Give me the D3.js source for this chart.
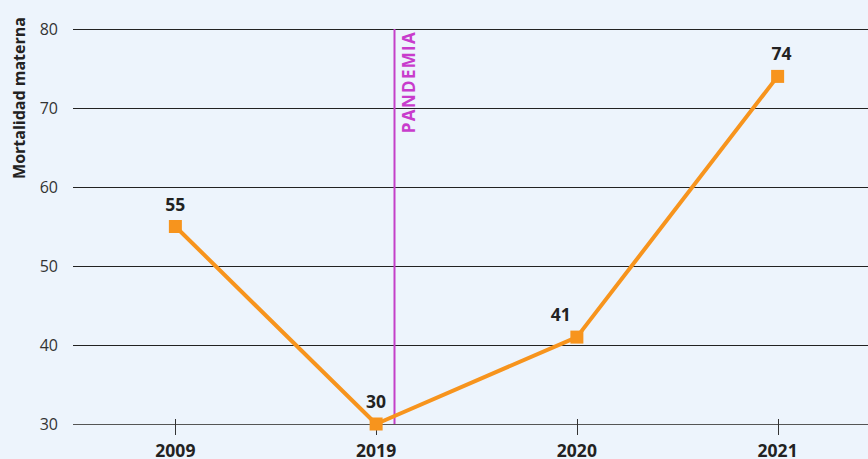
<!DOCTYPE html>
<html><head><meta charset="utf-8">
<script src="https://cdn.jsdelivr.net/npm/d3@7"></script>
<style>
html,body{margin:0;padding:0;background:#edf4fc;}
svg{display:block;font-family:"Open Sans","Noto Sans",sans-serif;}
</style></head>
<body><svg id="c" width="868" height="459"></svg>
<script>
const categories = ["2009","2019","2020","2021"];
const values = [55,30,41,74];
const yTicks = [30,40,50,60,70,80];
const labelDx = [0,0,-16,4];
const pandemicLabel = "PANDEMIA";
const yTitle = "Mortalidad materna";

const svg = d3.select("#c");
svg.append("rect").attr("width",868).attr("height",459).attr("fill","#edf4fc");
const x = d3.scalePoint().domain(categories).range([75,878]).padding(0.5);
const y = d3.scaleLinear().domain([30,80]).range([424,29]);

svg.append("g").selectAll("line").data(yTicks).join("line")
  .attr("x1",73).attr("x2",868).attr("y1",d=>y(d)+0.5).attr("y2",d=>y(d)+0.5)
  .attr("stroke",d=>d===30?"#555":"#222").attr("stroke-width",1);
svg.append("g").selectAll("text").data(yTicks).join("text")
  .attr("x",58).attr("y",d=>y(d)).attr("dy","0.35em").attr("text-anchor","end")
  .attr("font-size",16).attr("fill","#333").text(d=>d);

svg.append("g").selectAll("line").data(categories).join("line")
  .attr("x1",d=>Math.round(x(d))+0.5).attr("x2",d=>Math.round(x(d))+0.5)
  .attr("y1",419).attr("y2",435).attr("stroke","#333");
svg.append("g").selectAll("text").data(categories).join("text")
  .attr("x",d=>x(d)).attr("y",457).attr("text-anchor","middle")
  .attr("font-size",17.5).attr("font-weight","bold").attr("fill","#222").text(d=>d);

svg.append("text").attr("transform","translate(25,98) rotate(-90)")
  .attr("text-anchor","middle").attr("font-size",16).attr("font-weight","bold")
  .attr("fill","#222").text(yTitle);

svg.append("line").attr("x1",394.5).attr("x2",394.5).attr("y1",y(80)).attr("y2",y(30))
  .attr("stroke","#c440c8").attr("stroke-width",2);
svg.append("text").attr("transform","translate(415,31) rotate(-90)")
  .attr("text-anchor","end").attr("font-size",17).attr("font-weight","bold")
  .attr("fill","#c83ccc").attr("letter-spacing",1.3).text(pandemicLabel);

const data = categories.map((c,i)=>({c,v:values[i],dx:labelDx[i]}));
svg.append("path").datum(data)
  .attr("d",d3.line().x(d=>x(d.c)).y(d=>y(d.v)))
  .attr("fill","none").attr("stroke","#f7941d").attr("stroke-width",4).attr("stroke-linejoin","round");
svg.append("g").selectAll("rect").data(data).join("rect")
  .attr("x",d=>x(d.c)-6.5).attr("y",d=>y(d.v)-6.5).attr("width",13).attr("height",13)
  .attr("fill","#f7941d");
svg.append("g").selectAll("text").data(data).join("text")
  .attr("x",d=>x(d.c)+d.dx).attr("y",d=>y(d.v)-16).attr("text-anchor","middle")
  .attr("font-size",17.5).attr("font-weight","bold").attr("fill","#222").text(d=>d.v);
</script></body></html>
